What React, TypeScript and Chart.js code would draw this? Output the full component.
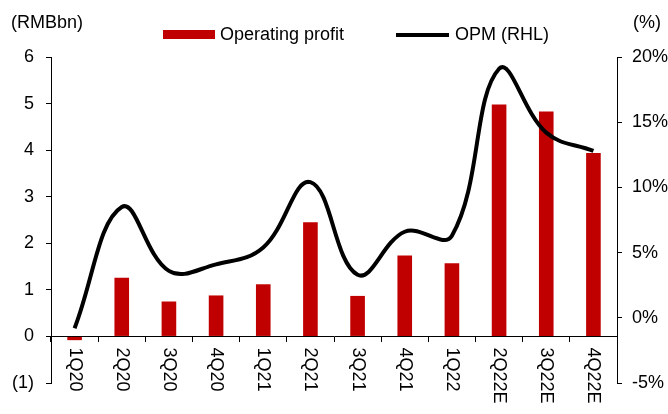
import React, { useEffect, useRef } from "react";
import { Chart, registerables } from "chart.js";

Chart.register(...registerables);

const categories = ["1Q20", "2Q20", "3Q20", "4Q20", "1Q21", "2Q21", "3Q21", "4Q21", "1Q22", "2Q22E", "3Q22E", "4Q22E"];
const operatingProfit = [-0.08, 1.26, 0.75, 0.88, 1.12, 2.45, 0.87, 1.74, 1.57, 4.98, 4.83, 3.94];
const opmPercent = [-0.8, 8.5, 3.6, 4.1, 5.4, 10.4, 3.3, 6.6, 6.3, 19.1, 14.2, 12.8];
const leftAxisRange = [-1, 6];
const rightAxisRange = [-5, 20];
const barLabel = "Operating profit";
const lineLabel = "OPM (RHL)";
const leftTitle = "(RMBbn)";
const rightTitle = "(%)";

const BAR_COLOR = "#C00000";
const FONT_FAMILY = "'Liberation Sans', Arial, sans-serif";
const FONT_SIZE = 18;

const overlayPlugin = {
  id: "overlay",
  afterDraw(chart: any) {
    const ctx = chart.ctx as CanvasRenderingContext2D;
    const xs = chart.scales.x;
    const ys = chart.scales.y;
    ctx.save();
    ctx.font = `${FONT_SIZE}px ${FONT_FAMILY}`;
    ctx.fillStyle = "#000";
    ctx.textBaseline = "middle";
    const zeroY = ys.getPixelForValue(0);
    categories.forEach((c, i) => {
      const px = xs.getPixelForValue(i);
      ctx.save();
      ctx.translate(px, zeroY + 11);
      ctx.rotate(Math.PI / 2);
      ctx.textAlign = "left";
      ctx.fillText(c, 0, 0);
      ctx.restore();
    });
    ctx.textAlign = "left";
    ctx.fillText(leftTitle, 11, 23);
    ctx.fillText(rightTitle, 633, 23);

    // legend
    ctx.fillStyle = BAR_COLOR;
    ctx.fillRect(163, 30, 52, 9);
    ctx.fillStyle = "#000";
    ctx.fillText(barLabel, 220, 35);
    ctx.strokeStyle = "#000";
    ctx.lineWidth = 4;
    ctx.beginPath();
    ctx.moveTo(396, 35);
    ctx.lineTo(449, 35);
    ctx.stroke();
    ctx.fillText(lineLabel, 455, 35);
    ctx.restore();
  },
};

export default function App() {
  const canvasRef = useRef<HTMLCanvasElement | null>(null);

  useEffect(() => {
    if (!canvasRef.current) return;
    Chart.defaults.font.family = FONT_FAMILY;
    Chart.defaults.font.size = FONT_SIZE;
    Chart.defaults.color = "#000";

    const chart = new Chart(canvasRef.current, {
      type: "bar",
      data: {
        labels: categories,
        datasets: [
          {
            type: "line",
            label: lineLabel,
            data: opmPercent,
            yAxisID: "y1",
            borderColor: "#000",
            backgroundColor: "#000",
            borderWidth: 4,
            pointRadius: 0,
            tension: 0.4,
            fill: false,
            order: 0,
          } as any,
          {
            type: "bar",
            label: barLabel,
            data: operatingProfit,
            yAxisID: "y",
            backgroundColor: BAR_COLOR,
            barPercentage: 0.31,
            categoryPercentage: 1,
            order: 1,
          },
        ],
      },
      options: {
        responsive: true,
        maintainAspectRatio: false,
        animation: false,
        layout: { padding: { top: 57, bottom: 31, left: 0, right: 0 } },
        plugins: {
          legend: { display: false },
          tooltip: { enabled: false },
        },
        scales: {
          x: {
            type: "category",
            position: { y: 0 } as any,
            offset: true,
            grid: { offset: true, drawOnChartArea: false, tickLength: 5, color: "#000" },
            border: { color: "#000", width: 1 },
            ticks: { display: false },
          },
          y: {
            position: "left",
            min: leftAxisRange[0],
            max: leftAxisRange[1],
            ticks: {
              stepSize: 1,
              padding: 12,
              color: "#000",
              font: { size: FONT_SIZE, family: FONT_FAMILY },
              callback: (v: any) => (Number(v) < 0 ? `(${-Number(v)})` : `${v}`),
            },
            grid: { drawOnChartArea: false, tickLength: 5, color: "#000" },
            border: { color: "#000", width: 1 },
            afterFit: (s: any) => {
              s.width = 51;
            },
          },
          y1: {
            position: "right",
            min: rightAxisRange[0],
            max: rightAxisRange[1],
            ticks: {
              stepSize: 5,
              padding: 10,
              color: "#000",
              font: { size: FONT_SIZE, family: FONT_FAMILY },
              callback: (v: any) => `${v}%`,
            },
            grid: { drawOnChartArea: false, tickLength: 5, color: "#000" },
            border: { color: "#000", width: 1 },
            afterFit: (s: any) => {
              s.width = 51;
            },
          },
        },
      },
      plugins: [overlayPlugin],
    });
    return () => chart.destroy();
  }, []);

  return (
    <div style={{ position: "absolute", left: 0, top: 0, width: 668, height: 414, background: "#fff" }}>
      <canvas ref={canvasRef} />
    </div>
  );
}
